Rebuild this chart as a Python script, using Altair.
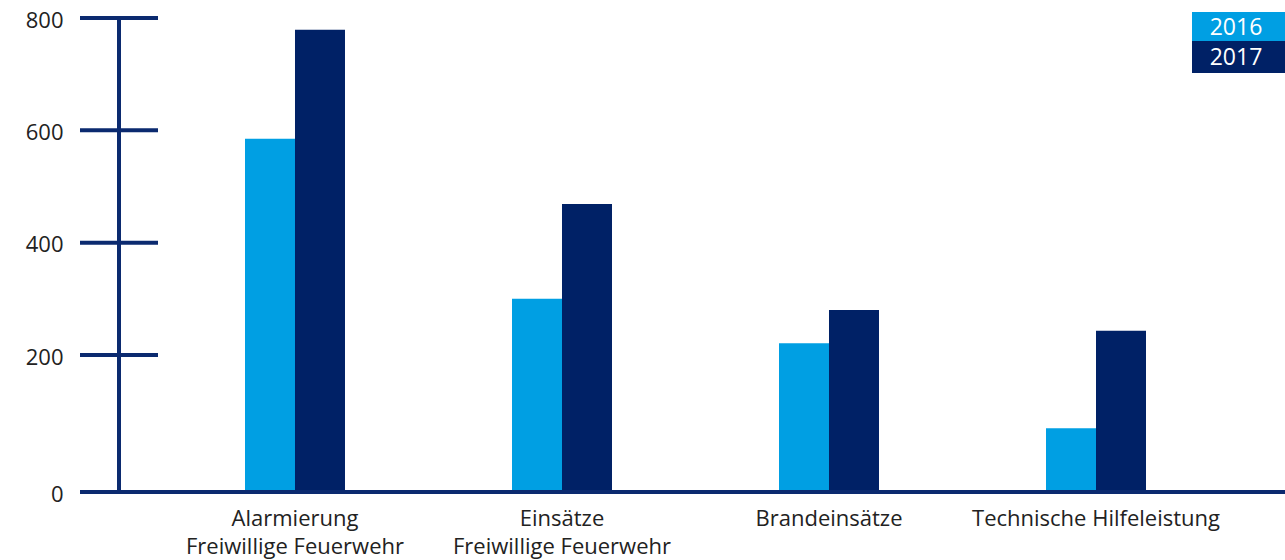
import altair as alt
import pandas as pd

categories = ["Alarmierung\nFreiwillige Feuerwehr", "Einsätze\nFreiwillige Feuerwehr",
              "Brandeinsätze", "Technische Hilfeleistung"]
years = ["2016", "2017"]
values_2016 = [585, 300, 221, 93]
values_2017 = [779, 469, 280, 243]
y_ticks = [0, 200, 400, 600, 800]
tick_marks = [200, 400, 600, 800]

C16 = "#009fe3"
C17 = "#002166"
AX = "#0b2a6f"
FONT = "Open Sans"

rows = []
for c, a, b in zip(categories, values_2016, values_2017):
    rows.append({"cat": c, "year": "2016", "value": a})
    rows.append({"cat": c, "year": "2017", "value": b})
df = pd.DataFrame(rows)

W, H = 1205, 474
yscale = alt.Scale(domain=[0, 200, 800], range=[H, 337, 0], zero=False, nice=False)
yaxis = alt.Axis(title=None, domain=False, ticks=False, grid=False, values=y_ticks,
                 labelFont=FONT, labelFontSize=22, labelColor="#222222",
                 labelPadding=17, labelOffset=2)

bars = alt.Chart(df).mark_bar(size=50).encode(
    x=alt.X("cat:N", sort=categories,
            scale=alt.Scale(range=[165, 1066], paddingInner=0.6255, paddingOuter=0),
            axis=alt.Axis(title=None, domain=False, ticks=False, labelAngle=0,
                          labelFont=FONT, labelFontSize=22, labelColor="#222222",
                          labelPadding=16, labelLineHeight=28, labelLimit=0,
                          labelExpr="split(datum.label, '\\n')")),
    xOffset=alt.XOffset("year:N", sort=years, scale=alt.Scale(paddingInner=0, paddingOuter=0)),
    y=alt.Y("value:Q", scale=yscale, axis=yaxis),
    color=alt.Color("year:N", scale=alt.Scale(domain=years, range=[C16, C17]), legend=None),
)

tick_df = pd.DataFrame({"v": tick_marks})
ticks = alt.Chart(tick_df).mark_rule(color=AX, strokeWidth=4).encode(
    y=alt.Y("v:Q", scale=yscale, axis=yaxis),
    x=alt.value(0), x2=alt.value(78),
)

vaxis = alt.Chart(pd.DataFrame({"a": [800], "b": [0]})).mark_rule(color=AX, strokeWidth=4).encode(
    y=alt.Y("a:Q", scale=yscale, axis=yaxis), y2="b:Q", x=alt.value(39),
)

base = alt.Chart(pd.DataFrame({"b": [0]})).mark_rule(color=AX, strokeWidth=4).encode(
    y=alt.Y("b:Q", scale=yscale, axis=yaxis), x=alt.value(0), x2=alt.value(W),
)

leg_layers = []
boxes = [(-6, 23), (23, 55)]
for yr, col, (ya, yb) in zip(years, [C16, C17], boxes):
    d = alt.Data(values=[{"year": yr}])
    leg_layers.append(alt.Chart(d).mark_rect(color=col).encode(
        x=alt.value(1112), x2=alt.value(1205), y=alt.value(ya), y2=alt.value(yb)))
    leg_layers.append(alt.Chart(d).mark_text(color="white", font=FONT, fontSize=23,
                                             align="center", baseline="middle").encode(
        x=alt.value(1156), y=alt.value((ya + yb) / 2 + 1), text="year:N"))

chart = alt.layer(bars, ticks, vaxis, base, *leg_layers).properties(
    width=W, height=H,
    autosize=alt.AutoSizeParams(type="none"),
    padding={"left": 80, "top": 18, "right": 0, "bottom": 68},
).configure(background="white").configure_view(stroke=None)

chart.save("out.html", embed_options={"renderer": "svg", "actions": False})
